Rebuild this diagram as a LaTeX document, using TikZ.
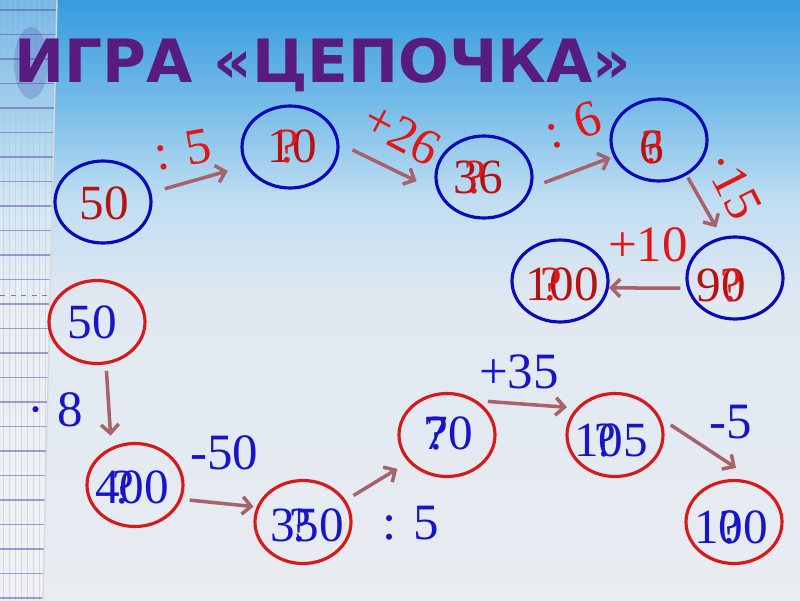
\documentclass[tikz,border=0pt]{standalone}
\usepackage{fontspec}
\setmainfont{Liberation Serif}
\newfontfamily\titelfont{DejaVu Sans}
\usetikzlibrary{shapes, arrows.meta, calc}

\definecolor{titelfarbe}{RGB}{88,28,128}
\definecolor{hellrot}{RGB}{225,22,22}
\definecolor{dunkelrot}{RGB}{182,18,18}
\definecolor{blautext}{RGB}{22,22,200}
\definecolor{ringblau}{RGB}{10,10,185}
\definecolor{ringrot}{RGB}{215,25,25}
\definecolor{pfeilfarbe}{RGB}{168,98,108}
\definecolor{himmel}{RGB}{55,155,222}
\definecolor{himmelmittel}{RGB}{115,186,232}
\definecolor{himmelhell}{RGB}{192,222,242}
\definecolor{dunst}{RGB}{224,232,241}
\definecolor{boden}{RGB}{233,236,241}
\pgfdeclareverticalshading{himmelverlauf}{100bp}{color(0bp)=(boden); color(25bp)=(boden); color(50bp)=(dunst); color(58.3bp)=(himmelhell); color(66.7bp)=(himmelmittel); color(75bp)=(himmel); color(100bp)=(himmel)}

\begin{document}
\begin{tikzpicture}[
	ringo/.style={ellipse, draw=ringblau, line width=1.8pt, minimum width=1.92cm, minimum height=1.64cm, inner sep=0pt},
	ringu/.style={ellipse, draw=ringrot, line width=1.8pt, minimum width=1.92cm, minimum height=1.66cm, inner sep=0pt},
	zahlo/.style={text=dunkelrot, font=\fontsize{28}{30}\selectfont, inner sep=0pt},
	zahlu/.style={text=blautext, font=\fontsize{28}{30}\selectfont, inner sep=0pt},
	frageo/.style={text=hellrot, font=\fontsize{28}{30}\selectfont, inner sep=0pt, anchor=base},
	frageu/.style={text=blautext, font=\fontsize{28}{30}\selectfont, inner sep=0pt, anchor=base},
	opo/.style={text=hellrot, font=\fontsize{29}{31}\selectfont, inner sep=0pt},
	opu/.style={text=blautext, font=\fontsize{29}{31}\selectfont, inner sep=0pt},
	pfeilstil/.style={draw=pfeilfarbe, line width=2pt, -{Straight Barb[length=5pt,width=10pt]}}]
		\useasboundingbox (0,0) rectangle (16,12);
		
		% Hintergrund
		\shade[shading=himmelverlauf] (0,0) rectangle (16,12);
		
		% Lineal links
		\begin{scope}
		\clip (0,0) -- (0,12) -- (1.14,12) .. controls (1.0,6) .. (0.86,0) -- cycle;
		\fill[white, opacity=0.3] (0,0) rectangle (1.2,12);
		\foreach \x in {0.06,0.18,...,1.2}
		\draw[gray!50, opacity=0.45, line width=0.3pt] (\x,0) -- (\x,12);
		\foreach \y in {11.8,11.31,...,0}
		\draw[gray!70!blue, opacity=0.55, line width=0.6pt] (0,\y) -- (1.2,\y);
		\draw[gray, dashed, line width=0.4pt] (0,6.1) -- (1.2,6.1);
		\end{scope}
		\draw[white!70!gray, line width=0.8pt] (1.14,12) .. controls (1.0,6) .. (0.86,0);
		\fill[blue!40!gray, opacity=0.25] (0.62,10.74) ellipse (0.34cm and 0.72cm);
		
		% Titel
		\node[text=titelfarbe, font=\titelfont\bfseries\fontsize{34}{40}\selectfont, anchor=base] (ueberschrift) at (6.46,10.34) {ИГРА «ЦЕПОЧКА»};
		
		% Obere Kette
		\node[ringo] (a1) at (2.06,7.96) {};
		\node[ringo] (a2) at (5.80,9.06) {};
		\node[ringo] (a3) at (9.68,8.46) {};
		\node[ringo] (a4) at (13.18,9.20) {};
		\node[ringo] (a5) at (14.70,6.44) {};
		\node[ringo] (a6) at (11.20,6.38) {};
		
		\node[zahlo] (za1) at (2.08,7.94) {50};
		\node[zahlo] (za2) at (5.84,9.08) {10};
		\node[zahlo] (za3) at (9.56,8.46) {36};
		\node[zahlo] (za4) at (13.04,9.06) {6};
		\node[zahlo] (za5) at (14.42,6.30) {90};
		\node[zahlo] (za6) at (11.24,6.32) {100};
		
		\node[frageo] (fa2) at ([xshift=-0.08cm]za2.base) {?};
		\node[frageo] (fa3) at ([xshift=-0.06cm]za3.base) {?};
		\node[frageo] (fa4) at (za4.base) {?};
		\node[frageo] (fa5) at ([xshift=0.20cm]za5.base) {?};
		\node[frageo] (fa6) at ([xshift=-0.22cm]za6.base) {?};
		
		\draw[pfeilstil, shorten <=0.28cm, shorten >=0.37cm] (a1.11) -- (a2.203);
		\draw[pfeilstil, shorten <=0.29cm, shorten >=0.46cm] (a2.4) -- (a3.197);
		\draw[pfeilstil, shorten <=0.26cm, shorten >=0.06cm] (a3.348) -- (a4.200);
		\draw[pfeilstil, shorten <=0.05cm, shorten >=0.22cm] (a4.308) -- (a5.108);
		\draw[pfeilstil, shorten <=0.13cm] (a5.192) -- (a6.352);
		
		\node[opo, rotate=10] (oa1) at (3.66,9.00) {: 5};
		\node[opo, rotate=-28] (oa2) at (8.04,9.32) {+26};
		\node[opo, rotate=18] (oa3) at (11.46,9.50) {: 6};
		\node[opo, rotate=-63] (oa4) at (14.66,8.30) {·15};
		\node[opo] (oa5) at (12.96,7.10) {+10};
		
		% Untere Kette
		\node[ringu] (b1) at (1.94,5.56) {};
		\node[ringu] (b2) at (2.70,2.30) {};
		\node[ringu] (b3) at (6.06,1.56) {};
		\node[ringu] (b4) at (8.94,3.30) {};
		\node[ringu] (b5) at (12.30,3.30) {};
		\node[ringu] (b6) at (14.68,1.56) {};
		
		\node[zahlu] (zb1) at (1.84,5.56) {50};
		\node[zahlu] (zb2) at (2.64,2.26) {400};
		\node[zahlu] (zb3) at (6.14,1.50) {350};
		\node[zahlu] (zb4) at (8.96,3.34) {70};
		\node[zahlu] (zb5) at (12.22,3.20) {105};
		\node[zahlu] (zb6) at (14.62,1.46) {100};
		
		\node[frageu] (fb2) at ([xshift=-0.18cm]zb2.base) {?};
		\node[frageu] (fb3) at ([xshift=-0.14cm]zb3.base) {?};
		\node[frageu] (fb4) at ([xshift=-0.22cm]zb4.base) {?};
		\node[frageu] (fb5) at ([xshift=-0.12cm]zb5.base) {?};
		\node[frageu] (fb6) at ([xshift=-0.02cm]zb6.base) {?};
		
		\draw[pfeilstil, shorten <=0.13cm, shorten >=0.23cm] (b1.282) -- (b2.122);
		\draw[pfeilstil, shorten <=0.16cm, shorten >=0.06cm] (b2.343) -- (b3.162);
		\draw[pfeilstil, shorten <=0.18cm, shorten >=0.26cm] (b3.27) -- (b4.215);
		\draw[pfeilstil, shorten <=0.22cm, shorten >=0.19cm] (b4.49) -- (b5.145);
		\draw[pfeilstil, shorten <=0.24cm] (b5.20) -- ([shift={(0.04,0.22)}]b6.north);
		
		\node[opu] (ob1) at (1.10,3.80) {· 8};
		\node[opu] (ob2) at (4.48,2.94) {-50};
		\node[opu] (ob3) at (8.22,1.54) {: 5};
		\node[opu] (ob4) at (10.38,4.56) {+35};
		\node[opu] (ob5) at (14.62,3.56) {-5};
	\end{tikzpicture}
\end{document}
